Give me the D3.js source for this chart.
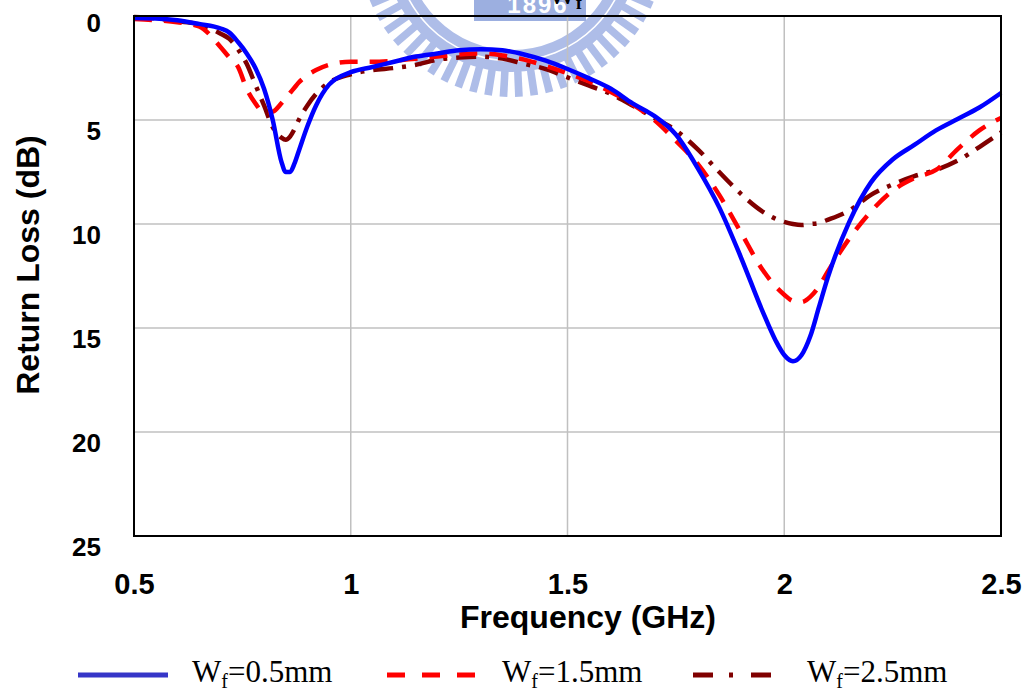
<!DOCTYPE html>
<html>
<head>
<meta charset="utf-8">
<script src="https://cdn.jsdelivr.net/npm/d3@7"></script>
<style>
  html, body { margin: 0; padding: 0; background: #fff; }
  svg { display: block; }
</style>
</head>
<body>
<svg id="chart" width="1029" height="690"></svg>
<script>
// Frequency samples (GHz)
const freq = [0.50, 0.55, 0.60, 0.65, 0.70, 0.72, 0.74, 0.76, 0.78, 0.80, 0.82, 0.84, 0.85, 0.86, 0.87, 0.88,
              0.90, 0.92, 0.95, 1.00, 1.05, 1.10, 1.15, 1.20, 1.25, 1.30, 1.35, 1.40, 1.45, 1.50, 1.55, 1.60,
              1.65, 1.70, 1.75, 1.80, 1.85, 1.90, 1.95, 1.98, 2.00, 2.02, 2.04, 2.06, 2.08, 2.10, 2.15, 2.20,
              2.25, 2.30, 2.35, 2.40, 2.45, 2.50];

// Return loss (dB) for each feed width
const rlWf05 = [0.10, 0.12, 0.20, 0.38, 0.60, 0.80, 1.25, 1.80, 2.50, 3.50, 5.00, 7.00, 7.50, 7.50, 7.10, 6.50,
                5.30, 4.30, 3.30, 2.70, 2.45, 2.20, 1.95, 1.80, 1.65, 1.60, 1.65, 1.85, 2.15, 2.55, 3.00, 3.50,
                4.20, 4.80, 5.70, 7.30, 9.20, 11.60, 14.20, 15.60, 16.30, 16.60, 16.30, 15.40, 14.00, 12.60, 9.90, 8.00,
                6.90, 6.20, 5.50, 4.95, 4.40, 3.70];
const rlWf15 = [0.15, 0.20, 0.30, 0.50, 1.50, 2.00, 2.45, 3.50, 4.20, 4.65, 4.60, 4.20, 3.95, 3.70, 3.45, 3.20,
                2.85, 2.60, 2.35, 2.20, 2.20, 2.15, 2.05, 1.95, 1.85, 1.80, 1.90, 2.10, 2.40, 2.75, 3.15, 3.65,
                4.25, 5.00, 6.00, 7.10, 8.60, 10.40, 12.20, 13.00, 13.40, 13.70, 13.75, 13.50, 13.00, 12.30, 10.70, 9.40,
                8.40, 7.80, 7.40, 6.40, 5.50, 4.90];
const rlWf25 = [0.05, 0.12, 0.25, 0.40, 0.85, 1.10, 1.60, 2.30, 3.30, 4.30, 5.35, 5.85, 5.95, 5.80, 5.45, 5.00,
                4.30, 3.75, 3.20, 2.80, 2.60, 2.50, 2.35, 2.10, 2.00, 1.95, 2.05, 2.30, 2.55, 2.95, 3.35, 3.75,
                4.30, 4.90, 5.50, 6.40, 7.50, 8.55, 9.40, 9.75, 9.90, 10.00, 10.05, 10.00, 9.95, 9.80, 9.35, 8.60,
                8.10, 7.70, 7.40, 6.95, 6.30, 5.60];

const xTicks = [0.5, 1, 1.5, 2, 2.5];
const xTickLabels = ["0.5", "1", "1.5", "2", "2.5"];
const yTicks = [0, 5, 10, 15, 20, 25];
const seriesNames = ["0.5mm", "1.5mm", "2.5mm"];

const series = [
  { name: seriesNames[0], values: rlWf05, color: "#0000ff", dash: null,          legendColor: "#3636c8", legendDash: null },
  { name: seriesNames[1], values: rlWf15, color: "#ff0000", dash: "18,12",       legendColor: "#ff0000", legendDash: "18,17" },
  { name: seriesNames[2], values: rlWf25, color: "#800000", dash: "20,9,4,9",    legendColor: "#800000", legendDash: "20,16,4,18" }
];

const svg = d3.select("#chart");
const plot = { left: 134, top: 16, right: 1001, bottom: 536 };

const x = d3.scaleLinear().domain([0.5, 2.5]).range([plot.left, plot.right]);
const y = d3.scaleLinear().domain([0, 25]).range([plot.top, plot.bottom]);

// University seal watermark behind the plot
const wm = svg.append("g").attr("fill", "#aebde8");
const cx = 512, cy = -56;
const toothR0 = 126, toothR1 = 153;
for (let a = 12; a <= 168; a += 5.8) {
  const t = a * Math.PI / 180;
  const half = 1.7 * Math.PI / 180;
  const pts = [
    [cx + toothR0 * Math.cos(t - half), cy + toothR0 * Math.sin(t - half)],
    [cx + toothR1 * Math.cos(t - half * 0.85), cy + toothR1 * Math.sin(t - half * 0.85)],
    [cx + toothR1 * Math.cos(t + half * 0.85), cy + toothR1 * Math.sin(t + half * 0.85)],
    [cx + toothR0 * Math.cos(t + half), cy + toothR0 * Math.sin(t + half)]
  ];
  wm.append("path").attr("d", "M" + pts.map(p => p.join(",")).join("L") + "Z");
}
wm.append("path")
  .attr("d", d3.arc().innerRadius(106).outerRadius(128).startAngle(0).endAngle(2 * Math.PI)())
  .attr("transform", `translate(${cx},${cy})`);
wm.append("circle").attr("cx", cx).attr("cy", cy).attr("r", 117)
  .attr("fill", "none").attr("stroke", "#ffffff").attr("stroke-width", 1.6);
wm.append("rect").attr("x", 474).attr("y", 0).attr("width", 112).attr("height", 21).attr("fill", "#9cafe0");
wm.append("text").attr("x", 538).attr("y", 13).attr("text-anchor", "middle")
  .attr("font-family", "Liberation Sans, Arial, sans-serif").attr("font-weight", "bold")
  .attr("font-size", 24).attr("letter-spacing", 2).attr("fill", "#ffffff").text("1896");

// Heading, mostly above the top edge
const head = svg.append("text").attr("x", 548).attr("y", 4)
  .attr("font-family", "Liberation Serif, 'Times New Roman', serif").attr("font-weight", "bold")
  .attr("font-size", 28).attr("fill", "#000");
head.append("tspan").text("W");
head.append("tspan").attr("font-size", 18).attr("dy", 5).text("f");

// Grid lines
const grid = svg.append("g").attr("stroke", "#c0c0c0").attr("stroke-width", 1.5);
grid.selectAll("line.v").data(xTicks.slice(1, -1)).join("line")
  .attr("x1", d => x(d)).attr("x2", d => x(d)).attr("y1", plot.top).attr("y2", plot.bottom);
grid.selectAll("line.h").data(yTicks.slice(1, -1)).join("line")
  .attr("y1", d => y(d)).attr("y2", d => y(d)).attr("x1", plot.left).attr("x2", plot.right);

// Axes (labels only)
const xAxis = d3.axisBottom(x).tickValues(xTicks).tickSize(0).tickPadding(0)
  .tickFormat((d, i) => xTickLabels[i]);
const gx = svg.append("g").attr("transform", `translate(0,${plot.bottom})`).call(xAxis);
gx.select(".domain").remove();
gx.selectAll("text").attr("dy", null).attr("y", 58)
  .attr("font-family", "Liberation Sans, Arial, sans-serif").attr("font-weight", "bold")
  .attr("font-size", 29).attr("fill", "#000");

const yAxis = d3.axisLeft(y).tickValues(yTicks).tickSize(0).tickPadding(0);
const gy = svg.append("g").attr("transform", `translate(101,0)`).call(yAxis);
gy.select(".domain").remove();
gy.selectAll("text").attr("x", 0).attr("dy", null).attr("y", d => d === 0 ? 15 : 19)
  .attr("font-family", "Liberation Sans, Arial, sans-serif").attr("font-weight", "bold")
  .attr("font-size", 26).attr("fill", "#000");

// Curves
const line = d3.line()
  .x((d, i) => x(freq[i]))
  .y(d => y(d))
  .curve(d3.curveMonotoneX);

const curves = svg.append("g").attr("fill", "none").attr("stroke-width", 4.5)
  .attr("stroke-linejoin", "round");
series.slice().reverse().forEach(s => {
  curves.append("path").datum(s.values)
    .attr("d", line)
    .attr("stroke", s.color)
    .attr("stroke-dasharray", s.dash);
});

// Plot frame
svg.append("rect")
  .attr("x", plot.left).attr("y", plot.top)
  .attr("width", plot.right - plot.left).attr("height", plot.bottom - plot.top)
  .attr("fill", "none").attr("stroke", "#000").attr("stroke-width", 2);

// Axis titles
svg.append("text").attr("x", 588).attr("y", 628).attr("text-anchor", "middle")
  .attr("font-family", "Liberation Sans, Arial, sans-serif").attr("font-weight", "bold")
  .attr("font-size", 32).attr("fill", "#000").text("Frequency (GHz)");
svg.append("text").attr("transform", "translate(39,265) rotate(-90)").attr("text-anchor", "middle")
  .attr("font-family", "Liberation Sans, Arial, sans-serif").attr("font-weight", "bold")
  .attr("font-size", 32).attr("fill", "#000").text("Return Loss (dB)");

// Legend
const legendPos = [{ lx: 78, tx: 192 }, { lx: 387, tx: 502 }, { lx: 693, tx: 807 }];
const legend = svg.append("g");
series.forEach((s, i) => {
  const p = legendPos[i];
  legend.append("line")
    .attr("x1", p.lx).attr("x2", p.lx + 90).attr("y1", 675).attr("y2", 675)
    .attr("stroke", s.legendColor).attr("stroke-width", 5)
    .attr("stroke-dasharray", s.legendDash);
  const t = legend.append("text").attr("x", p.tx).attr("y", 682)
    .attr("font-family", "Liberation Serif, 'Times New Roman', serif")
    .attr("font-size", 31).attr("fill", "#000");
  t.append("tspan").text("W");
  t.append("tspan").attr("font-size", 20).attr("dy", 6).text("f");
  t.append("tspan").attr("dy", -6).text("=" + s.name);
});
</script>
</body>
</html>
